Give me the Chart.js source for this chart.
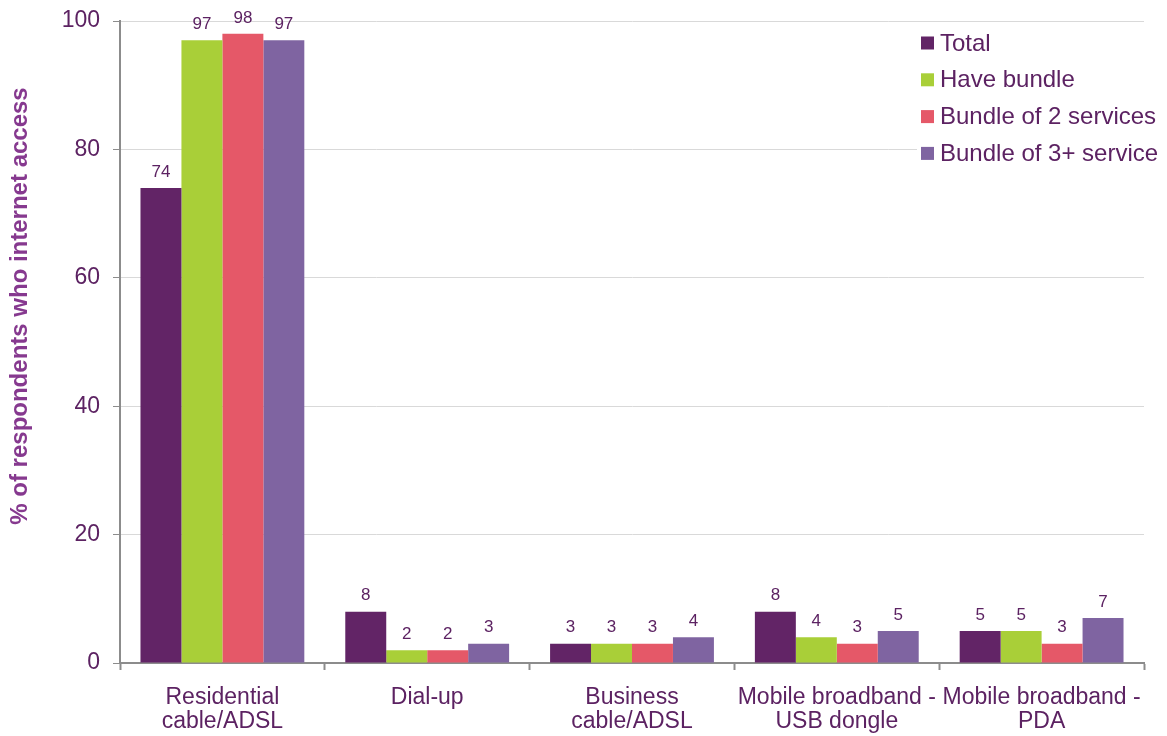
<!DOCTYPE html>
<html>
<head>
<meta charset="utf-8">
<script src="https://cdn.jsdelivr.net/npm/chart.js@4.4.1/dist/chart.umd.min.js"></script>
<style>
  html, body { margin: 0; padding: 0; background: #ffffff; }
  #wrap { position: relative; width: 1167px; height: 736px; }
</style>
</head>
<body>
<div id="wrap"><canvas id="c" width="1167" height="736"></canvas></div>
<script>
// Internet access type by bundle ownership (% of respondents)
const categories = [
  ['Residential', 'cable/ADSL'],
  ['Dial-up'],
  ['Business', 'cable/ADSL'],
  ['Mobile broadband -', 'USB dongle'],
  ['Mobile broadband -', 'PDA']
];
const seriesNames = ['Total', 'Have bundle', 'Bundle of 2 services', 'Bundle of 3+ service'];
const total       = [74, 8, 3, 8, 5];
const haveBundle  = [97, 2, 3, 4, 5];
const bundleTwo   = [98, 2, 3, 3, 3];
const bundleThree = [97, 3, 4, 5, 7];
const yTicks = [0, 20, 40, 60, 80, 100];

const colors = ['#622466', '#a9cf38', '#e55868', '#7f64a1'];
const textColor = '#5c2262';
const titleColor = '#86398f';
const axisColor = '#8c8c8c';
const gridColor = '#d9d9d9';
const FONT = '"Liberation Sans", Arial, Helvetica, sans-serif';

const seriesValues = [total, haveBundle, bundleTwo, bundleThree];

// value labels above each bar
const valueLabels = {
  id: 'valueLabels',
  afterDatasetsDraw(chart) {
    const ctx = chart.ctx;
    ctx.save();
    ctx.font = '17px ' + FONT;
    ctx.fillStyle = textColor;
    ctx.textAlign = 'center';
    ctx.textBaseline = 'middle';
    chart.data.datasets.forEach((ds, i) => {
      chart.getDatasetMeta(i).data.forEach((bar, j) => {
        ctx.fillText(String(ds.data[j]), bar.x, bar.y - 16);
      });
    });
    ctx.restore();
  }
};

// boxed legend in the upper right of the plot
const cornerLegend = {
  id: 'cornerLegend',
  afterDatasetsDraw(chart) {
    const ctx = chart.ctx;
    ctx.save();
    ctx.fillStyle = '#ffffff';
    ctx.fillRect(917, 25, 250, 146);
    ctx.font = '24px ' + FONT;
    ctx.textAlign = 'left';
    ctx.textBaseline = 'middle';
    chart.data.datasets.forEach((ds, i) => {
      const cy = 43 + i * 36.8;
      ctx.fillStyle = ds.backgroundColor;
      ctx.fillRect(921, cy - 6.5, 13, 13);
      ctx.fillStyle = textColor;
      ctx.fillText(ds.label, 940, cy + 1);
    });
    ctx.restore();
  }
};

// rotated y-axis caption
const yCaption = {
  id: 'yCaption',
  afterDraw(chart) {
    const ctx = chart.ctx;
    ctx.save();
    ctx.translate(20, 306);
    ctx.rotate(-Math.PI / 2);
    ctx.font = 'bold 24px ' + FONT;
    ctx.fillStyle = titleColor;
    ctx.textAlign = 'center';
    ctx.textBaseline = 'middle';
    ctx.fillText('% of respondents who internet access', 0, 0);
    ctx.restore();
  }
};

new Chart(document.getElementById('c'), {
  type: 'bar',
  data: {
    labels: categories,
    datasets: seriesNames.map((name, i) => ({
      label: name,
      data: seriesValues[i],
      backgroundColor: colors[i],
      borderWidth: 0,
      barPercentage: 1.0,
      categoryPercentage: 0.8
    }))
  },
  options: {
    responsive: false,
    animation: false,
    devicePixelRatio: 1,
    layout: { padding: { top: 21, right: 23, left: 0, bottom: 0 } },
    plugins: {
      legend: { display: false },
      tooltip: { enabled: false }
    },
    scales: {
      x: {
        grid: {
          offset: true,
          drawOnChartArea: false,
          drawTicks: true,
          tickLength: 7,
          tickColor: axisColor,
          tickWidth: 2
        },
        border: { color: axisColor, width: 2 },
        ticks: {
          color: textColor,
          font: { family: FONT, size: 23, lineHeight: '24px' },
          padding: 16,
          maxRotation: 0,
          autoSkip: false
        },
        afterFit(scale) { scale.height = 73; }
      },
      y: {
        min: 0,
        max: 100,
        afterBuildTicks(scale) { scale.ticks = yTicks.map(v => ({ value: v })); },
        grid: {
          color: gridColor,
          lineWidth: 1,
          drawTicks: true,
          tickLength: 7,
          tickColor: axisColor,
          tickWidth: 1
        },
        border: { color: axisColor, width: 2 },
        ticks: {
          color: textColor,
          font: { family: FONT, size: 23 },
          padding: 13
        },
        afterFit(scale) {
          scale.width = 120;
          scale.paddingTop = 0;
          scale.paddingBottom = 0;
        }
      }
    }
  },
  plugins: [valueLabels, cornerLegend, yCaption]
});
</script>
</body>
</html>
